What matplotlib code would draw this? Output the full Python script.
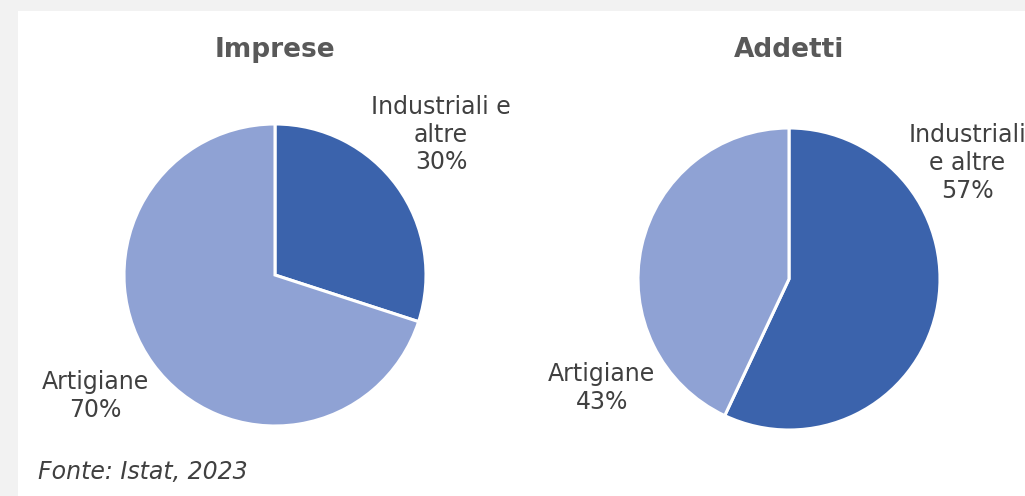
import matplotlib.pyplot as plt

# data
titles = ['Imprese', 'Addetti']
categories = ['Industriali e altre', 'Artigiane']
imprese = [30, 70]
addetti = [57, 43]
label_text = [
    ['Industriali e\naltre\n30%', 'Artigiane\n70%'],
    ['Industriali\ne altre\n57%', 'Artigiane\n43%'],
]

dark = '#3b63ac'
light = '#8fa2d4'

W, H = 1025, 496
fig = plt.figure(figsize=(W / 100, H / 100), dpi=100)
fig.patch.set_facecolor('#f2f2f2')

# white panel
panel = fig.add_axes([18 / W, 0, (W - 18) / W, (H - 11) / H])
panel.set_facecolor('white')
panel.set_xticks([])
panel.set_yticks([])
for s in panel.spines.values():
    s.set_visible(False)


def pie_axes(cx, cy, r):
    ax = fig.add_axes([(cx - r) / W, (H - cy - r) / H, 2 * r / W, 2 * r / H])
    ax.set_xlim(-1, 1)
    ax.set_ylim(-1, 1)
    ax.axis('off')
    return ax


centers = [(275, 275, 151), (789, 279, 151)]
values = [imprese, addetti]
# label positions relative to pie (radius = 1)
label_pos = [
    [(1.10, 0.93), (-1.19, -0.80)],
    [(1.18, 0.77), (-1.24, -0.72)],
]

for i in range(2):
    cx, cy, r = centers[i]
    ax = pie_axes(cx, cy, r)
    ax.pie(values[i], colors=[dark, light], startangle=90, counterclock=False,
           radius=1, wedgeprops=dict(edgecolor='white', linewidth=2.2))
    ax.set_xlim(-1, 1)
    ax.set_ylim(-1, 1)
    for j in range(2):
        x, y = label_pos[i][j]
        ax.text(x, y, label_text[i][j], ha='center', va='center', fontsize=17,
                color='#404040', linespacing=1.2, clip_on=False)
    fig.text(cx / W, 1 - 50 / H, titles[i], ha='center', va='center',
             fontsize=19, fontweight='bold', color='#595959')

fig.text(38 / W, 1 - 472 / H, 'Fonte: Istat, 2023', ha='left', va='center',
         fontsize=17, style='italic', color='#404040')

plt.savefig('out.png', dpi=100, facecolor=fig.get_facecolor())
